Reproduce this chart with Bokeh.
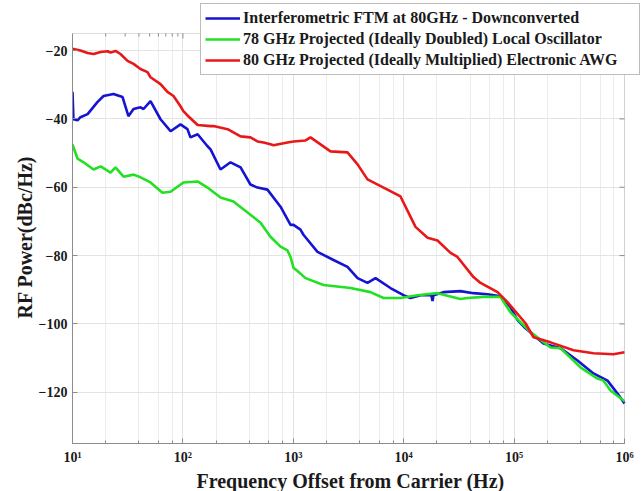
from bokeh.plotting import figure
from bokeh.models import (FixedTicker, LogTicker, Legend, LegendItem, Range1d, BoxAnnotation,
                          Title)
from bokeh.embed import file_html
from bokeh.resources import INLINE

# ---------------- data ----------------
red_f = [10, 11.8, 13.7, 15.5, 18.0, 20.8, 22.1, 24.5, 27.2, 31.5, 35.7, 41.3, 47.8, 50.9,
         62.7, 72.4, 82.2, 95.1, 101, 110, 136, 178, 189, 254, 333, 409, 474, 537, 621, 662,
         885, 1005, 1291, 1432, 2173, 3097, 3819, 4699, 7129, 9354, 12790, 16440, 20230,
         26550, 30690, 42850, 49660, 70790, 87100, 126800, 150000, 213800, 345100, 523600,
         794300, 1000000]
red_db = [-19.5, -20.0, -20.7, -21.0, -20.4, -20.2, -20.6, -20.1, -21.0, -23.0, -23.9, -25.4,
          -26.3, -27.8, -29.8, -32.1, -33.3, -36.3, -37.7, -39.0, -41.8, -42.1, -42.1, -43.0,
          -45.1, -45.4, -46.6, -46.9, -47.4, -47.7, -46.9, -46.6, -46.3, -45.4, -49.5, -49.8,
          -53.3, -57.7, -60.7, -62.7, -71.6, -74.8, -75.6, -79.2, -80.4, -86.3, -88.0, -90.7,
          -93.6, -99.8, -103.9, -105.4, -107.7, -108.6, -108.9, -108.3]

blue_f = [10, 10.2, 11.1, 11.8, 13.7, 16.8, 19.1, 23.5, 28.4, 32.1, 35.7, 41.3, 44.0, 50.9,
          62.7, 77.3, 95.1, 110, 117, 136, 167, 178, 219, 270, 333, 409, 474, 583, 766, 944,
          1005, 1161, 1236, 1656, 2312, 3097, 3819, 4699, 5559, 7586, 9954, 11530, 14190,
          17780, 18240, 18620, 22960, 32660, 42850, 57410, 75340, 80170, 92680, 107400,
          126800, 140900, 184500, 263000, 375000, 523600, 701500, 865000, 1000000]
blue_db = [-32.1, -40.1, -40.4, -39.5, -38.6, -35.1, -33.3, -32.7, -33.6, -39.2, -37.1, -36.6,
           -37.1, -34.8, -40.1, -43.6, -41.6, -43.0, -45.4, -44.5, -48.0, -48.9, -54.8, -52.7,
           -54.2, -59.2, -60.1, -60.7, -65.7, -71.0, -71.0, -72.4, -73.9, -78.9, -81.3, -83.3,
           -86.6, -88.0, -86.6, -89.5, -91.6, -92.4, -91.6, -91.6, -93.3, -91.6, -90.7, -90.4,
           -91.0, -91.3, -91.9, -93.0, -95.1, -98.9, -101.3, -102.5, -105.7, -107.1, -110.7,
           -114.5, -116.6, -120.4, -123.3]

green_f = [10, 11.1, 12.6, 15.5, 18.0, 22.1, 24.5, 29.0, 35.7, 41.3, 50.9, 65.3, 77.3, 101,
           136, 167, 219, 287, 385, 505, 621, 766, 885, 944, 1005, 1091, 1291, 1879, 3296,
           5000, 6561, 9354, 13340, 20230, 32660, 37840, 52840, 75340, 92680, 140900, 213800,
           263000, 399000, 568900, 645700, 746400, 979500, 1000000]
green_db = [-47.5, -51.6, -52.7, -54.8, -53.9, -55.7, -54.2, -56.9, -56.3, -57.1, -58.6, -61.6,
            -61.3, -58.6, -58.3, -60.1, -63.0, -64.2, -67.4, -70.4, -74.5, -77.4, -78.5, -80.4,
            -83.6, -84.5, -86.6, -88.6, -89.5, -90.7, -92.4, -92.4, -91.6, -91.0, -92.7, -92.4,
            -92.1, -92.1, -96.6, -102.4, -106.9, -107.1, -112.7, -116.0, -116.6, -119.5,
            -122.4, -122.6]

series_names = ["Interferometric FTM at 80GHz - Downconverted",
                "78 GHz Projected (Ideally Doubled) Local Oscillator",
                "80 GHz Projected (Ideally Multiplied) Electronic AWG"]
x_ticks = [10, 100, 1000, 10000, 100000, 1000000]
x_tick_labels = ["10\u00b9", "10\u00b2", "10\u00b3", "10\u2074", "10\u2075", "10\u2076"]
y_ticks = [-120, -100, -80, -60, -40, -20]
x_lim = (10, 1000000)
y_lim = (-135, -15)
x_label = "Frequency Offset from Carrier (Hz)"
y_label = "RF Power(dBc/Hz)"

# ---------------- figure ----------------
FONT = "Liberation Serif"
AX = "#8c8c8c"
TXT = "#1a1a1a"

# the frame is extended to the top/right of the canvas so the legend (which
# overhangs the axes box in the reference) is not clipped; the axes box is
# drawn at x_lim / y_lim.
p = figure(width=642, height=491, x_axis_type="log", output_backend="svg",
           toolbar_location=None, x_range=Range1d(10, 1.396e6), y_range=Range1d(-135, -5.93),
           min_border_left=72, min_border_right=2, min_border_top=2, min_border_bottom=48)
p.background_fill_color = "white"
p.border_fill_color = "white"
p.outline_line_color = None

lb = p.line(blue_f, blue_db, line_color="#1414d2", line_width=2.6)
lg = p.line(green_f, green_db, line_color="#22e022", line_width=2.6)
lr = p.line(red_f, red_db, line_color="#e81818", line_width=2.6)

xt = LogTicker()
yt = FixedTicker(ticks=y_ticks, minor_ticks=[])

for ax in p.xaxis:
    ax.ticker = xt
    ax.bounds = x_lim
    ax.major_label_overrides = {float(t): s for t, s in zip(x_ticks, x_tick_labels)}
for ax in p.yaxis:
    ax.ticker = yt
    ax.bounds = y_lim

for ax in list(p.xaxis) + list(p.yaxis):
    ax.axis_line_color = AX
    ax.major_tick_line_color = AX
    ax.minor_tick_line_color = AX
    ax.major_tick_in = 5
    ax.major_tick_out = 0
    ax.minor_tick_in = 3
    ax.minor_tick_out = 0
    ax.major_label_text_font = FONT
    ax.major_label_text_font_style = "bold"
    ax.major_label_text_font_size = "14px"
    ax.major_label_text_color = TXT

p.xaxis.major_label_standoff = 6
p.yaxis.major_label_standoff = 5

# axis titles, centred on the axes box (not on the extended frame)
xt_title = Title(text=x_label, align="left", offset=124, standoff=0,
                 text_font=FONT, text_font_style="bold", text_font_size="20px",
                 text_color=TXT)
yt_title = Title(text=y_label, align="left", offset=125, standoff=0,
                 text_font=FONT, text_font_style="bold", text_font_size="20px",
                 text_color=TXT)
p.add_layout(xt_title, "below")
p.add_layout(yt_title, "left")

p.xgrid.ticker = xt
p.xgrid.grid_line_color = "#e3e3e3"
p.xgrid.minor_grid_line_color = "#ececec"
p.ygrid.ticker = yt
p.ygrid.grid_line_color = "#e3e3e3"

# inward ticks on the top and right sides of the axes box
top_major = x_ticks
top_minor = [d * k for d in x_ticks[:-1] for k in range(2, 10)]
p.segment(x0=top_major, x1=top_major, y0=[y_lim[1]] * len(top_major),
          y1=[y_lim[1] - 1.46] * len(top_major), line_color=AX, line_width=1)
p.segment(x0=top_minor, x1=top_minor, y0=[y_lim[1]] * len(top_minor),
          y1=[y_lim[1] - 0.88] * len(top_minor), line_color=AX, line_width=1)
p.segment(x0=[x_lim[1]] * len(y_ticks), x1=[x_lim[1] / 1.11] * len(y_ticks),
          y0=y_ticks, y1=y_ticks, line_color=AX, line_width=1)

# blank out the frame area outside the axes box, then draw the box
p.add_layout(BoxAnnotation(bottom=y_lim[1], fill_color="white", fill_alpha=1.0,
                           line_color=None, level="underlay"))
p.add_layout(BoxAnnotation(left=x_lim[1], fill_color="white", fill_alpha=1.0,
                           line_color=None, level="underlay"))
p.add_layout(BoxAnnotation(left=x_lim[0], right=x_lim[1], bottom=y_lim[0], top=y_lim[1],
                           fill_color=None, fill_alpha=0, line_color=AX, line_width=1))

legend = Legend(items=[LegendItem(label=series_names[0], renderers=[lb]),
                       LegendItem(label=series_names[1], renderers=[lg]),
                       LegendItem(label=series_names[2], renderers=[lr])],
                location=(128, 368))
legend.label_text_font = FONT
legend.label_text_font_style = "bold"
legend.label_text_font_size = "16px"
legend.label_text_color = TXT
legend.glyph_width = 35
legend.glyph_height = 20
legend.label_height = 20
legend.label_width = 392
legend.label_standoff = 3
legend.spacing = 1
legend.padding = 4
legend.margin = 0
legend.border_line_color = "#7a7a7a"
legend.border_line_width = 1
legend.background_fill_color = "white"
legend.background_fill_alpha = 1.0
p.add_layout(legend, "center")

open("out.html", "w").write(file_html(p, INLINE))
